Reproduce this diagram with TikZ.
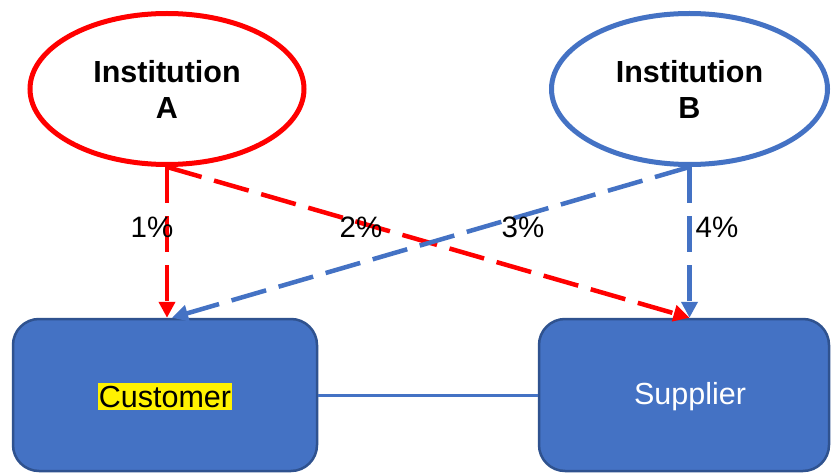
\documentclass[tikz,border=0pt]{standalone}
\usepackage{fontspec}
\setmainfont{Liberation Sans}
\usetikzlibrary{arrows.meta,calc,shapes.geometric}
\definecolor{rd}{HTML}{FF0000}
\definecolor{bl}{HTML}{4472C4}
\definecolor{bd}{HTML}{2F528F}
\begin{document}
\begin{tikzpicture}[x=1pt,y=-1pt,
  inst/.style={ellipse, line width=5pt, fill=white, align=center,
    font=\fontsize{30.5}{36}\selectfont\bfseries, inner sep=0pt},
  box/.style={rectangle, rounded corners=26pt, fill=bl, draw=bd, line width=2.5pt,
    minimum height=152pt, inner sep=0pt},
  conn/.style={line width=4.5pt, dash pattern=on 36pt off 13pt,
    -{Triangle[length=16pt,width=16pt]}},
  pct/.style={font=\fontsize{29.5}{34}\selectfont, text=black, inner sep=0pt},
  boxtext/.style={font=\fontsize{30.5}{36}\selectfont, inner xsep=1pt, inner ysep=2.5pt}]
\useasboundingbox (0,0) rectangle (832,473);
\fill[white] (0,0) rectangle (832,473);

% Institutions
\node[inst, draw=rd, minimum width=274pt, minimum height=151pt] (A) at (167,89) {Institution\\A};
\node[inst, draw=bl, minimum width=276pt, minimum height=151pt] (B) at (689.5,89) {Institution\\B};

% Boxes
\node[box, minimum width=304pt] (C) at (165,395) {};
\node[box, minimum width=290pt] (S) at (684,395) {};
\node[boxtext, fill=yellow, text=black] (Ct) at (165,396.5) {Customer};
\node[boxtext, text=white] (St) at (690,397) {Supplier};

% Link between boxes
\draw[bl, line width=3pt] (C.east) -- (S.west);

% Targets on box tops
\coordinate (cA) at (A.south |- C.north);
\coordinate (cB) at ($(C.north)+(7,0)$);
\coordinate (sA) at (B.south |- S.north);

% Connectors
\draw[conn, rd] (A.south) -- (cA);
\draw[conn, rd] (A.south) -- (sA);
\draw[conn, bl] (B.south) -- (cB);
\draw[conn, bl] (B.south) -- (sA);

% Labels
\node[pct] (l1) at (152,227) {1\%};
\node[pct] (l2) at (361,227) {2\%};
\node[pct] (l3) at (523,227) {3\%};
\node[pct] (l4) at (717,227) {4\%};
\end{tikzpicture}
\end{document}
